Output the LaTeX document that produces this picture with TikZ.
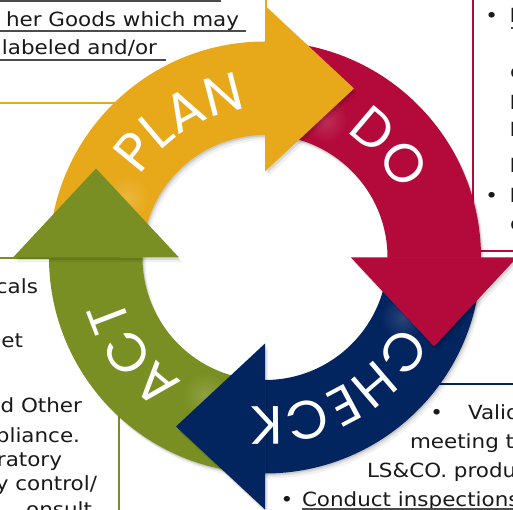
\documentclass[tikz,border=0pt]{standalone}
\usepackage{fontspec}
\setmainfont{DejaVu Sans}[FakeStretch=1.1]
\newfontfamily\labfont{Poppins}
\usetikzlibrary{decorations.text}
\definecolor{cgold}{RGB}{231,169,26}
\definecolor{cred}{RGB}{180,10,59}
\definecolor{cnavy}{RGB}{2,36,95}
\definecolor{colive}{RGB}{122,143,35}
\newcommand{\labsty}{\labfont\fontsize{54}{54}\selectfont}
\begin{document}
\begin{tikzpicture}[x=1pt,y=1pt,
  body/.style={font=\fontsize{19.5}{23}\selectfont, inner sep=0pt, outer sep=0pt, text=black!90},
  ul/.style={black!70, line width=1.2pt},
  boxline/.style={line width=2.2pt},
  lab/.style={decorate, decoration={text along path, text align=center, text color=white}}]
\useasboundingbox (0,0) rectangle (513,510);
\clip (0,0) rectangle (513,510);
\coordinate (C) at (265,252.5);

% text boxes (borders)
\draw[cgold, boxline] (-5,407) -- (266,407) -- (266,515);
\draw[cred, boxline] (473,515) -- (473,259) -- (520,259);
\draw[colive, boxline] (-5,252) -- (119,252) -- (119,-5);
\draw[cnavy, boxline] (265,126) -- (520,126);

% top-left text
\node[body, anchor=base east] (tA) at (239,483) {her Goods which may};
\node[body, anchor=base east] (tB) at (157,455) {labeled and/or};
\draw[ul] (0,509) -- (221,509);
\draw[ul] (0,479) -- (246,479);
\draw[ul] (0,450) -- (166,450);

% right text (cut)
\node[body, anchor=base] (rb1) at (491.7,487) {•};
\node[body, anchor=base west] (r1) at (509.5,487) {I};
\draw[ul] (511,482) -- (513,482);
\node[body, anchor=base west] (r2) at (510,431.5) {c};
\node[body, anchor=base west] (r3) at (509.5,400) {I};
\node[body, anchor=base west] (r4) at (509.5,373) {I};
\node[body, anchor=base west] (r5) at (509.5,337) {I};
\node[body, anchor=base] (rb2) at (491.7,307) {•};
\node[body, anchor=base west] (r6) at (509.5,307) {I};
\node[body, anchor=base west] (r7) at (510,279) {c};

% left text
\node[body, anchor=base east] (l1) at (38,216) {cals};
\node[body, anchor=base east] (l2) at (23,162) {eet};
\node[body, anchor=base east] (l3) at (82,97) {nd Other};
\node[body, anchor=base east] (l4) at (80,67) {pliance.};
\node[body, anchor=base east] (l5) at (62,43) {ratory};
\node[body, anchor=base east] (l6) at (97,19) {y control/};
\node[body, anchor=base east] (l7) at (92,-7) {onsult};

% bottom-right text
\node[body, anchor=base] (nb1) at (436.7,90) {•};
\node[body, anchor=base west] (n1) at (468,90) {Valid};
\node[body, anchor=base west] (n2) at (410,61) {meeting th};
\node[body, anchor=base west] (n3) at (367,32) {LS\&CO. produ};
\node[body, anchor=base] (nb2) at (287,3.5) {•};
\node[body, anchor=base west] (n4) at (302,3.5) {Conduct inspections};
\draw[ul] (302,1) -- (513,1);

% ring shadow
\foreach \dx/\dy/\op in {1/-1.5/.10, 2/-3/.07, 3.5/-5/.05}{
  \fill[black, opacity=\op, even odd rule, shift={(265+\dx,252.5+\dy)}] (0,0) circle[radius=216] (0,0) circle[radius=122.5];
}
% bands
\foreach \rot/\col in {0/cgold,-90/cred,-180/cnavy,-270/colive}{
  \fill[\col, shift={(C)}, rotate=\rot] (180:216) arc[start angle=180, end angle=90, radius=216] -- (90:122.5) arc[start angle=90, end angle=180, radius=122.5] -- cycle;
}
% light patches
\foreach \rot/\ncol in {0/cred,-90/cnavy,-180/colive,-270/cgold}{
  \shade[shift={(C)}, rotate=\rot, inner color=\ncol!85!white, outer color=\ncol] (60,137.5) circle[radius=22];
}
% heads
\foreach \rot/\col in {0/cgold,-90/cred,-180/cnavy,-270/colive}{
  \fill[black, opacity=.06, shift={(265+3,252.5-5)}, rotate=\rot] (0,86) -- (0,252) -- (89,169) -- cycle;
  \fill[black, opacity=.10, shift={(265+1.5,252.5-2.5)}, rotate=\rot] (0,86) -- (0,252) -- (89,169) -- cycle;
  \fill[\col, shift={(C)}, rotate=\rot] (0,86) -- (0,252) -- (89,169) -- cycle;
}
% labels
\path[lab, shift={(C)}, decoration={text={|\labsty|PLAN}}] (177:149) arc[start angle=177, end angle=67, radius=149];
\path[lab, shift={(C)}, decoration={text={|\labsty|DO}}] (96.6:149) arc[start angle=96.6, end angle=-13.4, radius=149];
\path[lab, shift={(C)}, decoration={text={|\labsty|CHECK}}] (-6:149) arc[start angle=-6, end angle=-116, radius=149];
\path[lab, shift={(C)}, decoration={text={|\labsty|ACT}}] (271:149) arc[start angle=271, end angle=161, radius=149];
\end{tikzpicture}
\end{document}
